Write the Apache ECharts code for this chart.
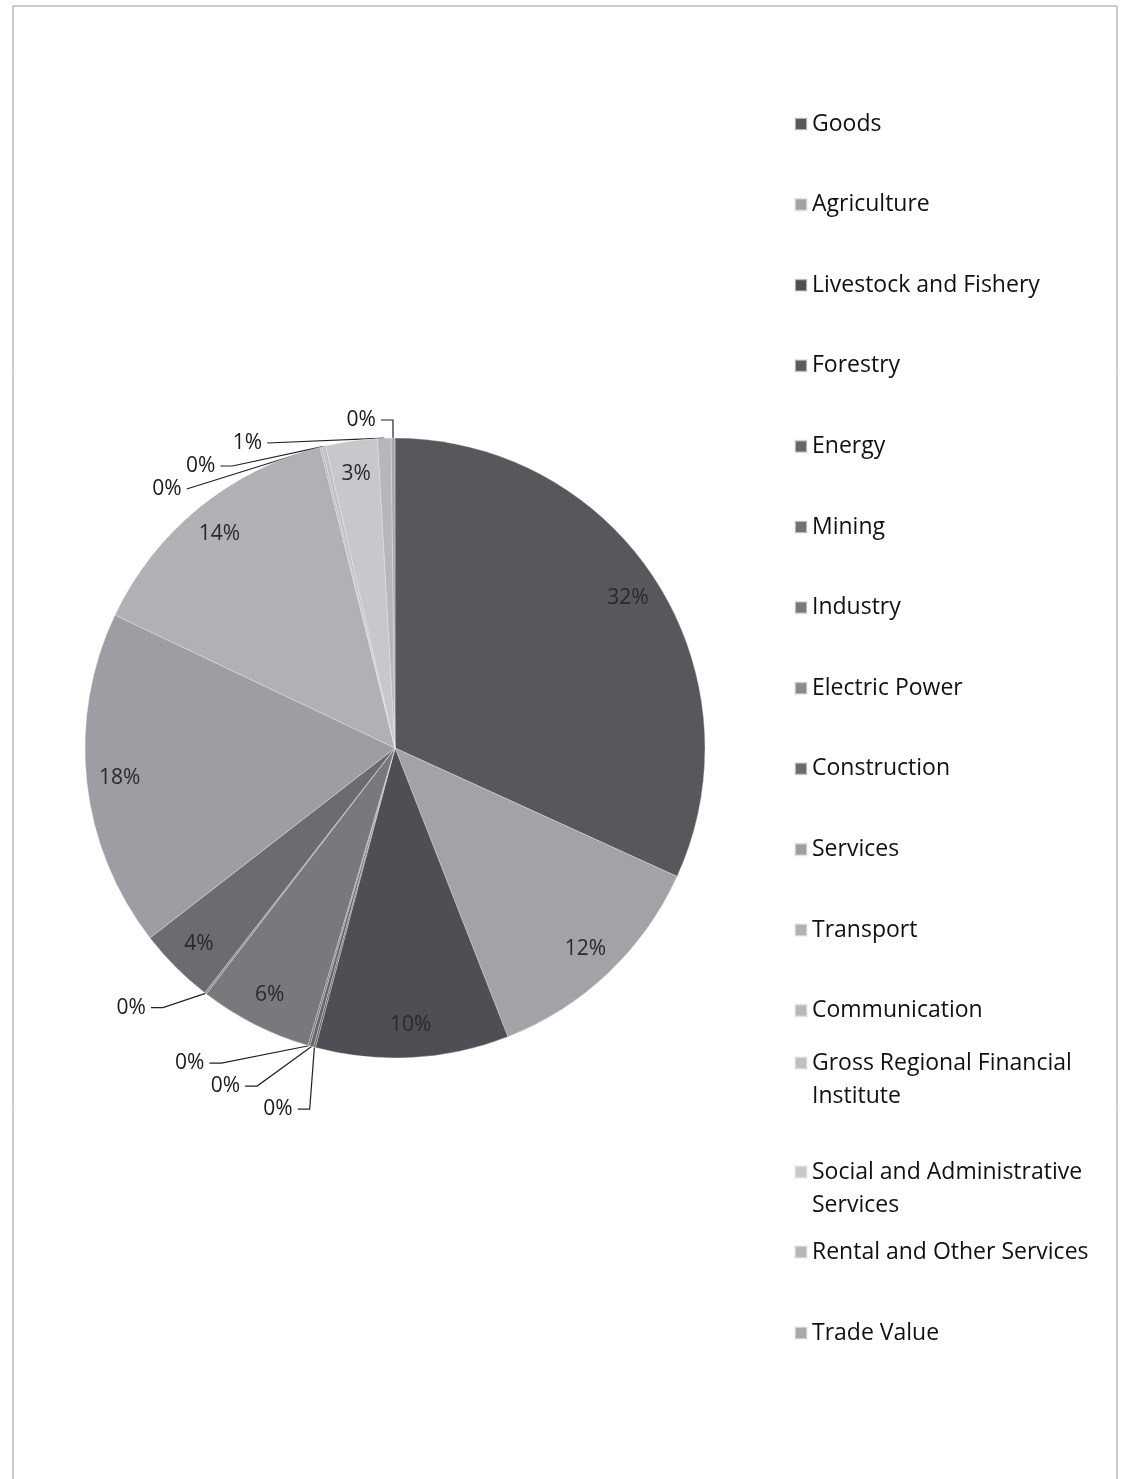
<!DOCTYPE html>
<html>
<head>
<meta charset="utf-8">
<script src="https://cdn.jsdelivr.net/npm/echarts@6/dist/echarts.min.js"></script>
<style>
  html, body { margin: 0; padding: 0; background: #fff; }
  #chart { width: 1127px; height: 1479px; }
</style>
</head>
<body>
<div id="chart"></div>
<script>
// ---- data ----
const categories = [
  'Goods', 'Agriculture', 'Livestock and Fishery', 'Forestry', 'Energy', 'Mining',
  'Industry', 'Electric Power', 'Construction', 'Services', 'Transport', 'Communication',
  'Gross Regional Financial Institute', 'Social and Administrative Services',
  'Rental and Other Services', 'Trade Value'
];
const shares = [31.9, 12.3, 10.1, 0.1, 0.2, 0.1, 5.9, 0.1, 4.0, 17.6, 14.1, 0.1, 0.2, 2.7, 0.7, 0.2];
const sliceColors = [
  '#58575c', '#a3a2a7', '#4f4e55', '#5c5b61', '#66656a', '#707075',
  '#79787d', '#8a898e', '#6c6b70', '#9e9da3', '#b1b0b5', '#b8b7bc',
  '#c0bfc4', '#c8c7cc', '#b7b6bb', '#a9a8ad'
];

const FONT = '"Open Sans", "Noto Sans", sans-serif';
const CX = 395, CY = 748, R = 310;

const pieData = categories.map((n, i) => ({ name: n, value: shares[i], itemStyle: { color: sliceColors[i] } }));
const labelData = categories.map((n, i) => {
  const small = shares[i] < 2;
  return {
    name: n, value: shares[i],
    label: { position: small ? 'outside' : 'inside', color: small ? '#1a1a1a' : '#2a2a2a' },
    labelLine: { show: small }
  };
});

const chart = echarts.init(document.getElementById('chart'), null, { renderer: 'canvas' });

const legendBase = {
  orient: 'vertical', left: 794, padding: 0,
  itemWidth: 12, itemHeight: 12, icon: 'rect', itemGap: 57,
  textStyle: { fontFamily: FONT, fontSize: 23, color: '#111', lineHeight: 26 },
  selectedMode: false
};
const twoLine = Object.assign({}, legendBase.textStyle, { lineHeight: 33 });

const option = {
  backgroundColor: '#fff',
  animation: false,
  graphic: [{
    type: 'rect', silent: true,
    shape: { x: 13, y: 6, width: 1104, height: 1490 },
    style: { fill: 'none', stroke: '#9a9a9a', lineWidth: 1 }
  }],
  legend: [
    Object.assign({}, legendBase, { top: 111, itemGap: 54.6, data: categories.slice(0, 12) }),
    Object.assign({}, legendBase, {
      top: 1013.5, data: [categories[12]],
      formatter: () => '\nGross Regional Financial\nInstitute',
      textStyle: twoLine
    }),
    Object.assign({}, legendBase, {
      top: 1122.5, data: [categories[13]],
      formatter: () => '\nSocial and Administrative\nServices',
      textStyle: twoLine
    }),
    Object.assign({}, legendBase, { top: 1239, itemGap: 55, data: categories.slice(14) })
  ],
  series: [
    {
      type: 'pie', center: [CX, CY], radius: [0, R], startAngle: 90, clockwise: true,
      avoidLabelOverlap: false, silent: true,
      itemStyle: { borderColor: 'rgba(235,235,240,0.6)', borderWidth: 0.6 },
      label: { show: false }, labelLine: { show: false },
      data: pieData
    },
    {
      type: 'pie', center: [CX, CY], radius: [R - 72, R], startAngle: 90, clockwise: true,
      silent: true, avoidLabelOverlap: true,
      itemStyle: { color: 'rgba(0,0,0,0)', borderWidth: 0 },
      label: {
        show: true, fontFamily: FONT, fontSize: 21,
        formatter: p => Math.round(p.percent) + '%'
      },
      labelLine: { length: 18, length2: 12, lineStyle: { color: '#222', width: 1.2 } },
      data: labelData
    }
  ]
};
chart.setOption(option);
</script>
</body>
</html>
